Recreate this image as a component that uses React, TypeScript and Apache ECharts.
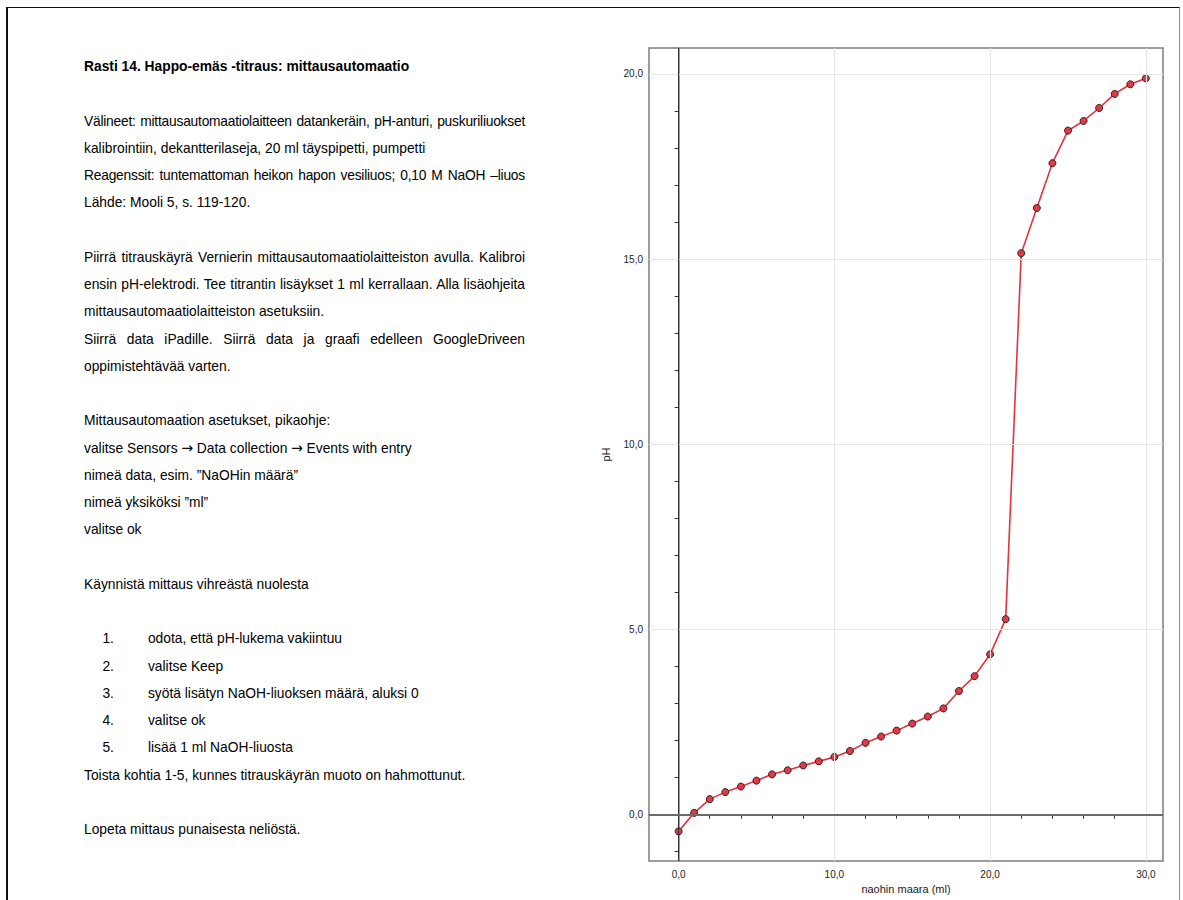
import React, { useEffect, useRef } from "react";
import * as echarts from "echarts";

// ---- Data ----
const volumeMl: number[] = [0, 1, 2, 3, 4, 5, 6, 7, 8, 9, 10, 11, 12, 13, 14, 15, 16, 17, 18, 19, 20, 21, 22, 23, 24, 25, 26, 27, 28, 29, 30];
const phValues: number[] = [-0.45, 0.05, 0.42, 0.61, 0.76, 0.92, 1.09, 1.2, 1.33, 1.44, 1.56, 1.72, 1.94, 2.11, 2.27, 2.46, 2.65, 2.87, 3.34, 3.74, 4.33, 5.28, 15.16, 16.38, 17.59, 18.47, 18.73, 19.08, 19.46, 19.72, 19.88];
const xLabelValues: number[] = [0, 10, 20, 30];
const xTickValues: number[] = [0, 2, 4, 6, 8, 10, 12, 14, 16, 18, 20, 22, 24, 26, 28, 30];
const yLabelValues: number[] = [0, 5, 10, 15, 20];
const yTickValues: number[] = [-1, 0, 1, 2, 3, 4, 5, 6, 7, 8, 9, 10, 11, 12, 13, 14, 15, 16, 17, 18, 19, 20];
const xGridValues: number[] = [10, 20, 30];
const yGridValues: number[] = [5, 10, 15, 20];
const xAxisTitle = "naohin maara (ml)";
const yAxisTitle = "pH";

// ---- Page text ----
type Line = { text?: string; bold?: boolean; justify?: boolean; tight?: boolean; num?: string };
const pageLines: Line[] = [
  { text: "Rasti 14. Happo-emäs -titraus: mittausautomaatio", bold: true },
  {},
  { text: "Välineet: mittausautomaatiolaitteen datankeräin, pH-anturi, puskuriliuokset", justify: true, tight: true },
  { text: "kalibrointiin, dekantterilaseja, 20 ml täyspipetti, pumpetti" },
  { text: "Reagenssit: tuntemattoman heikon hapon vesiliuos; 0,10 M NaOH –liuos", justify: true, tight: true },
  { text: "Lähde: Mooli 5, s. 119-120." },
  {},
  { text: "Piirrä titrauskäyrä Vernierin mittausautomaatiolaitteiston avulla. Kalibroi", justify: true },
  { text: "ensin pH-elektrodi. Tee titrantin lisäykset 1 ml kerrallaan. Alla lisäohjeita", justify: true },
  { text: "mittausautomaatiolaitteiston asetuksiin." },
  { text: "Siirrä data iPadille. Siirrä data ja graafi edelleen GoogleDriveen", justify: true },
  { text: "oppimistehtävää varten." },
  {},
  { text: "Mittausautomaation asetukset, pikaohje:" },
  { text: "valitse Sensors → Data collection → Events with entry" },
  { text: "nimeä data, esim. ”NaOHin määrä”" },
  { text: "nimeä yksiköksi ”ml”" },
  { text: "valitse ok" },
  {},
  { text: "Käynnistä mittaus vihreästä nuolesta" },
  {},
  { num: "1.", text: "odota, että pH-lukema vakiintuu" },
  { num: "2.", text: "valitse Keep" },
  { num: "3.", text: "syötä lisätyn NaOH-liuoksen määrä, aluksi 0" },
  { num: "4.", text: "valitse ok" },
  { num: "5.", text: "lisää 1 ml NaOH-liuosta" },
  { text: "Toista kohtia 1-5, kunnes titrauskäyrän muoto on hahmottunut." },
  {},
  { text: "Lopeta mittaus punaisesta neliöstä." },
];

const LINE_H = 27.26;
const SX = 0.92;

function renderText(t: string) {
  const parts = t.split("→");
  if (parts.length === 1) return t;
  const out: React.ReactNode[] = [];
  parts.forEach((p, i) => {
    out.push(<React.Fragment key={"p" + i}>{p}</React.Fragment>);
    if (i < parts.length - 1)
      out.push(
        <span key={"a" + i} style={{ fontFamily: "'DejaVu Sans', sans-serif", fontSize: 15 }}>
          →
        </span>
      );
  });
  return out;
}

function Chart() {
  const ref = useRef<HTMLDivElement>(null);
  useEffect(() => {
    if (!ref.current) return;
    const chart = echarts.init(ref.current, null, { renderer: "svg" });
    const pts = volumeMl.map((v, i) => [v, phValues[i]]);
    const fmt = (v: number) => v.toFixed(1).replace(".", ",");
    const gridMarks = [
      ...xGridValues.map((v) => ({ xAxis: v })),
      ...yGridValues.map((v) => ({ yAxis: v })),
    ];
    chart.setOption({
      animation: false,
      backgroundColor: "transparent",
      grid: {
        left: 649,
        top: 48,
        right: 20,
        bottom: 39,
        show: true,
        borderColor: "#7d7d7d",
        borderWidth: 1.5,
        backgroundColor: "transparent",
      },
      xAxis: {
        type: "value",
        min: -1.9,
        max: 31.1,
        name: xAxisTitle,
        nameLocation: "middle",
        nameGap: 22,
        nameTextStyle: { fontFamily: "Liberation Sans, Arial, sans-serif", fontSize: 11, color: "#222" },
        axisLine: { show: true, lineStyle: { color: "#7d7d7d", width: 1.5 } },
        axisTick: { show: true, inside: false, length: 4, customValues: xTickValues, lineStyle: { color: "#333", width: 1 } },
        axisLabel: {
          customValues: xLabelValues,
          margin: 8,
          formatter: fmt,
          fontFamily: "Liberation Sans, Arial, sans-serif",
          fontSize: 10,
          color: "#222",
        },
        splitLine: { show: false },
      },
      yAxis: {
        type: "value",
        min: -1.25,
        max: 20.7,
        name: yAxisTitle,
        nameLocation: "middle",
        nameGap: 38,
        nameRotate: 90,
        nameTextStyle: { fontFamily: "Liberation Sans, Arial, sans-serif", fontSize: 11, color: "#222" },
        axisLine: { show: true, lineStyle: { color: "#7d7d7d", width: 1.5 } },
        axisTick: { show: true, inside: false, length: 4, customValues: yTickValues, lineStyle: { color: "#333", width: 1 } },
        axisLabel: {
          customValues: yLabelValues,
          margin: 6,
          formatter: fmt,
          fontFamily: "Liberation Sans, Arial, sans-serif",
          fontSize: 10,
          color: "#222",
        },
        splitLine: { show: false },
      },
      series: [
        {
          type: "line",
          data: pts,
          z: 1,
          silent: true,
          showSymbol: false,
          lineStyle: { width: 0, opacity: 0 },
          markLine: {
            silent: true,
            symbol: ["none", "none"],
            label: { show: false },
            lineStyle: { color: "#e6e6e6", width: 1, type: "solid" },
            data: gridMarks,
          },
        },
        {
          type: "line",
          data: pts,
          z: 2,
          silent: true,
          showSymbol: false,
          lineStyle: { width: 0, opacity: 0 },
          markLine: {
            silent: true,
            symbol: ["none", "none"],
            label: { show: false },
            data: [
              { xAxis: 0, lineStyle: { color: "#333", width: 1, type: "solid" } },
              { yAxis: 0, lineStyle: { color: "#6a6a6a", width: 2, type: "solid" } },
            ],
          },
        },
        {
          type: "line",
          data: pts,
          z: 3,
          symbol: "circle",
          symbolSize: 7,
          showSymbol: true,
          lineStyle: { color: "#e3333f", width: 1.6 },
          itemStyle: { color: "#e03a48", borderColor: "#3a1c1c", borderWidth: 1 },
        },
      ],
    });
    return () => chart.dispose();
  }, []);
  return <div ref={ref} style={{ position: "absolute", left: 0, top: 0, width: 1183, height: 900 }} />;
}

export default function App() {
  return (
    <div style={{ position: "fixed", left: 0, top: 0, width: 1183, height: 900, overflow: "hidden", background: "#fff" }}>
      <div
        style={{
          position: "absolute",
          left: 6,
          top: 7,
          width: 1174,
          height: 1000,
          borderLeft: "2px solid #111",
          borderTop: "1.5px solid #111",
          borderRight: "1px solid #8a8a8a",
          boxSizing: "border-box",
        }}
      />
      <Chart />
      <div
        style={{
          position: "absolute",
          left: 84,
          top: 52,
          width: 441 / SX,
          transform: `scaleX(${SX})`,
          transformOrigin: "0 0",
          fontFamily: "'Liberation Sans', Arial, Helvetica, sans-serif",
          fontSize: 15,
          color: "#000",
        }}
      >
        {pageLines.map((l, i) => (
          <div
            key={i}
            style={{
              height: LINE_H,
              lineHeight: LINE_H + "px",
              whiteSpace: "nowrap",
              fontWeight: l.bold ? "bold" : "normal",
              textAlign: l.justify ? "justify" : "left",
              textAlignLast: l.justify ? "justify" : "left",
              letterSpacing: l.tight ? "-0.25px" : "normal",
              position: "relative",
            }}
          >
            {l.num ? (
              <>
                <span style={{ position: "absolute", left: 20 }}>{l.num}</span>
                <span style={{ position: "absolute", left: 69.5 }}>{l.text}</span>
              </>
            ) : l.text ? (
              renderText(l.text)
            ) : (
              "\u00a0"
            )}
          </div>
        ))}
      </div>
    </div>
  );
}
